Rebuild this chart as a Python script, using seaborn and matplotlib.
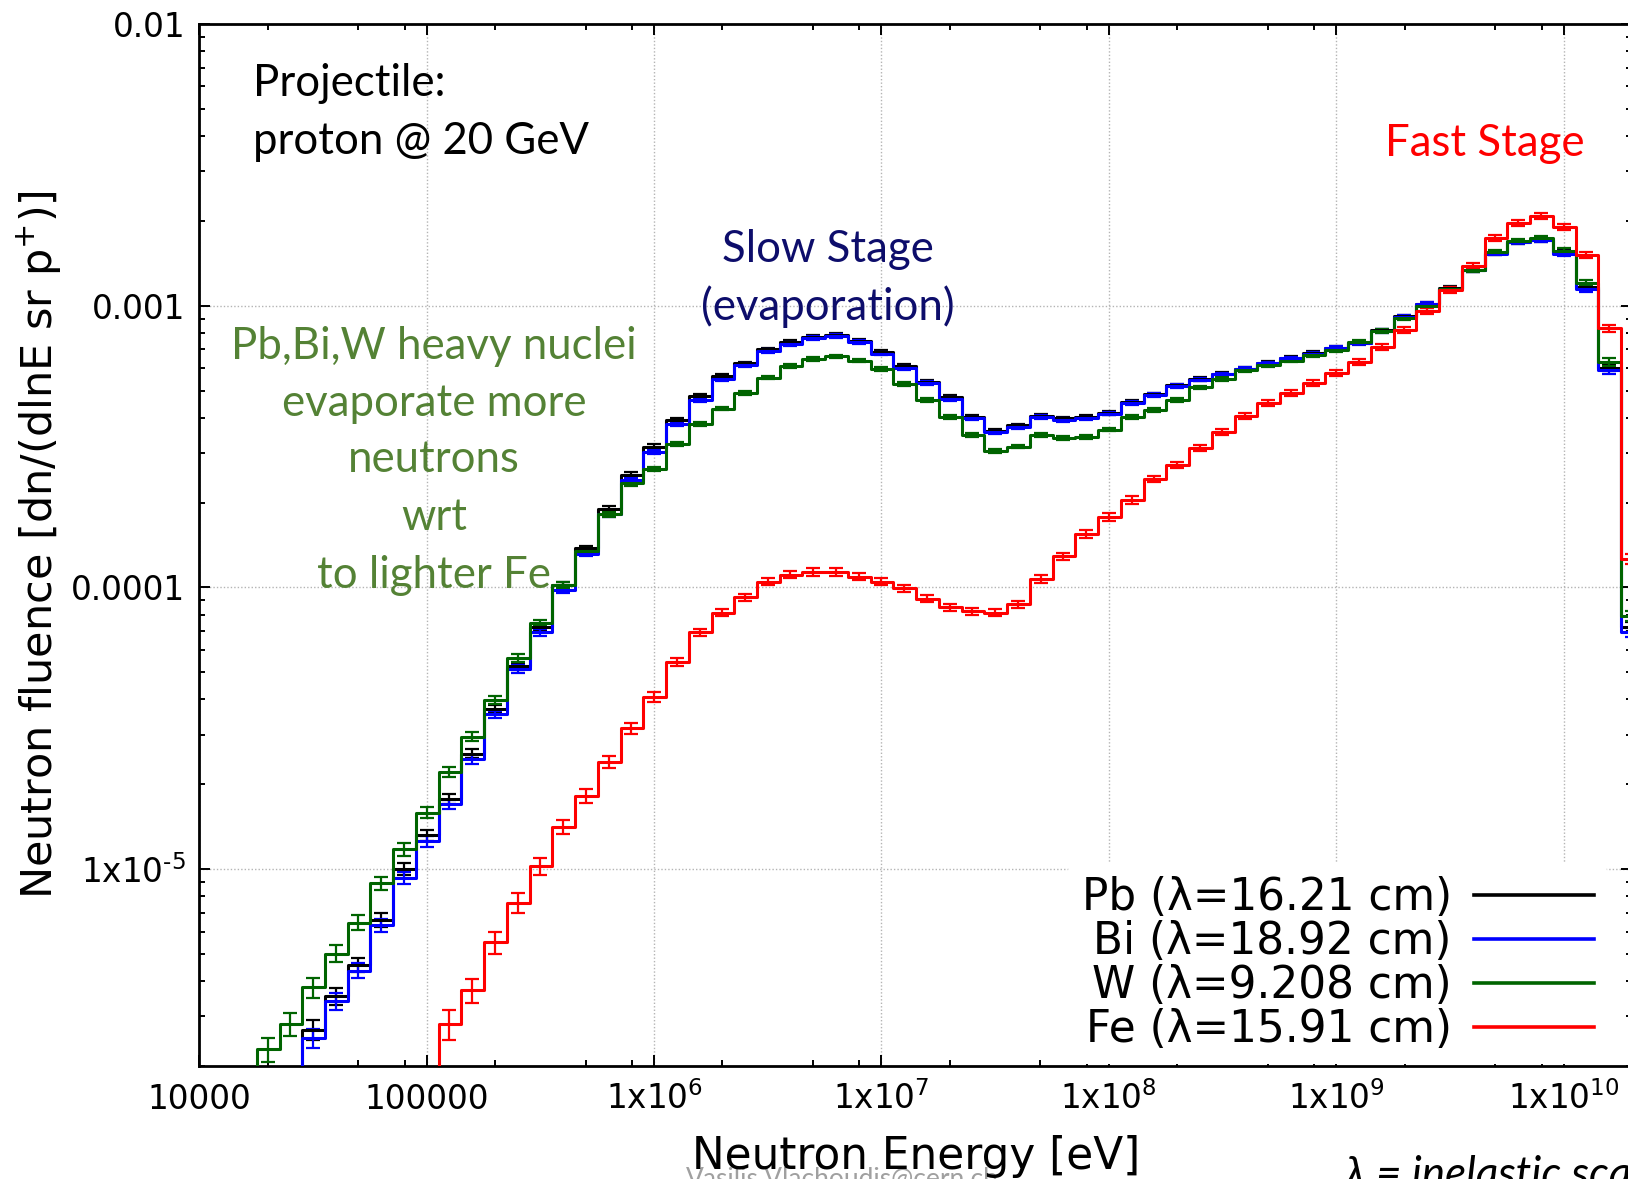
import numpy as np
import pandas as pd
import matplotlib
matplotlib.use("Agg")
import matplotlib.pyplot as plt
import seaborn as sns
from matplotlib.ticker import FixedLocator, FixedFormatter, NullFormatter
from matplotlib.lines import Line2D

nan = np.nan

# ---------------- data (log10 values) ----------------
log_energy = [
    4.2, 4.3, 4.4, 4.5, 4.6, 4.7, 4.8, 4.9, 5.0, 5.1,
    5.2, 5.3, 5.4, 5.5, 5.6, 5.7, 5.8, 5.9, 6.0, 6.1,
    6.2, 6.3, 6.4, 6.5, 6.6, 6.7, 6.8, 6.9, 7.0, 7.1,
    7.2, 7.3, 7.4, 7.5, 7.6, 7.7, 7.8, 7.9, 8.0, 8.1,
    8.2, 8.3, 8.4, 8.5, 8.6, 8.7, 8.8, 8.9, 9.0, 9.1,
    9.2, 9.3, 9.4, 9.5, 9.6, 9.7, 9.8, 9.9, 10.0, 10.1,
    10.2, 10.3,
]

log_pb = [
    nan, nan, -5.85, -5.57, -5.45, -5.34, -5.18, -5.00, -4.88, -4.75,
    -4.59, -4.43, -4.28, -4.14, -3.99, -3.86, -3.72, -3.60, -3.50, -3.405,
    -3.32, -3.25, -3.205, -3.155, -3.13, -3.112, -3.105, -3.125, -3.165, -3.215,
    -3.27, -3.325, -3.395, -3.445, -3.425, -3.39, -3.40, -3.395, -3.38, -3.342,
    -3.315, -3.283, -3.26, -3.242, -3.223, -3.203, -3.185, -3.168, -3.15, -3.131,
    -3.088, -3.038, -2.993, -2.938, -2.873, -2.813, -2.773, -2.766, -2.812, -2.935,
    -3.22, -4.14,
]

log_bi = [
    nan, nan, -5.85, -5.60, -5.47, -5.36, -5.20, -5.03, -4.90, -4.77,
    -4.61, -4.45, -4.29, -4.16, -4.01, -3.88, -3.74, -3.62, -3.52, -3.42,
    -3.335, -3.26, -3.21, -3.16, -3.135, -3.115, -3.108, -3.13, -3.17, -3.22,
    -3.275, -3.33, -3.40, -3.45, -3.43, -3.395, -3.405, -3.40, -3.383, -3.345,
    -3.318, -3.285, -3.262, -3.244, -3.225, -3.205, -3.187, -3.17, -3.151, -3.133,
    -3.09, -3.04, -2.995, -2.94, -2.875, -2.815, -2.775, -2.768, -2.815, -2.94,
    -3.23, -4.16,
]

log_w = [
    -5.85, -5.64, -5.55, -5.42, -5.30, -5.19, -5.05, -4.93, -4.80, -4.655,
    -4.53, -4.40, -4.25, -4.125, -3.99, -3.87, -3.74, -3.63, -3.58, -3.49,
    -3.42, -3.365, -3.31, -3.255, -3.215, -3.19, -3.18, -3.195, -3.225, -3.277,
    -3.335, -3.395, -3.46, -3.515, -3.50, -3.46, -3.47, -3.465, -3.44, -3.395,
    -3.37, -3.335, -3.29, -3.26, -3.23, -3.21, -3.195, -3.175, -3.157, -3.13,
    -3.09, -3.045, -3.00, -2.94, -2.875, -2.81, -2.77, -2.76, -2.805, -2.92,
    -3.20, -4.10,
]

log_fe = [
    nan, nan, nan, nan, nan, nan, nan, nan, -5.85, -5.55,
    -5.43, -5.26, -5.12, -4.99, -4.85, -4.74, -4.62, -4.50, -4.39, -4.265,
    -4.16, -4.09, -4.035, -3.98, -3.955, -3.945, -3.945, -3.962, -3.98, -4.003,
    -4.04, -4.07, -4.085, -4.09, -4.06, -3.97, -3.89, -3.81, -3.75, -3.69,
    -3.615, -3.565, -3.505, -3.447, -3.39, -3.345, -3.31, -3.275, -3.24, -3.20,
    -3.145, -3.085, -3.02, -2.945, -2.86, -2.76, -2.705, -2.683, -2.72, -2.82,
    -3.08, -3.90,
]

rel_err_heavy = [
    0.12, 0.10, 0.09, 0.08, 0.07, 0.06, 0.055, 0.05, 0.045, 0.04,
    0.035, 0.03, 0.03, 0.025, 0.025, 0.02, 0.02, 0.02, 0.018, 0.016,
    0.015, 0.015, 0.015, 0.015, 0.015, 0.015, 0.015, 0.015, 0.015, 0.015,
    0.015, 0.015, 0.015, 0.015, 0.015, 0.015, 0.015, 0.015, 0.015, 0.015,
    0.015, 0.015, 0.015, 0.015, 0.015, 0.015, 0.015, 0.015, 0.015, 0.015,
    0.015, 0.015, 0.015, 0.015, 0.015, 0.015, 0.015, 0.015, 0.02, 0.025,
    0.03, 0.04,
]

rel_err_fe = [
    0.2, 0.2, 0.2, 0.2, 0.2, 0.2, 0.2, 0.2, 0.15, 0.12,
    0.10, 0.09, 0.08, 0.07, 0.06, 0.055, 0.05, 0.045, 0.04, 0.035,
    0.03, 0.03, 0.03, 0.03, 0.03, 0.03, 0.03, 0.03, 0.03, 0.03,
    0.03, 0.03, 0.03, 0.03, 0.03, 0.03, 0.03, 0.03, 0.03, 0.03,
    0.025, 0.025, 0.025, 0.025, 0.025, 0.025, 0.025, 0.025, 0.025, 0.025,
    0.025, 0.025, 0.025, 0.025, 0.025, 0.025, 0.025, 0.025, 0.025, 0.025,
    0.03, 0.04,
]

labels = ["Pb (λ=16.21 cm)", "Bi (λ=18.92 cm)", "W (λ=9.208 cm)", "Fe (λ=15.91 cm)"]
colors = ["#000000", "#0000ff", "#006400", "#ff0000"]
series = [log_pb, log_bi, log_w, log_fe]
errors = [rel_err_heavy, rel_err_heavy, rel_err_heavy, rel_err_fe]

x_tick_values = [1e4, 1e5, 1e6, 1e7, 1e8, 1e9, 1e10]
x_tick_labels = ["10000", "100000", "1x10$^{6}$", "1x10$^{7}$", "1x10$^{8}$",
                 "1x10$^{9}$", "1x10$^{10}$"]
y_tick_values = [1e-5, 1e-4, 1e-3, 1e-2]
y_tick_labels = ["1x10$^{\\text{-5}}$", "0.0001", "0.001", "0.01"]

# ---------------- build long-form table ----------------
frames = []
for lab, vals in zip(labels, series):
    e = 10 ** np.array(log_energy)
    f = 10 ** np.array(vals, dtype=float)
    frames.append(pd.DataFrame({"energy": e, "fluence": f, "material": lab}))
df = pd.concat(frames, ignore_index=True).dropna()

# ---------------- figure ----------------
W, H = 1628, 1179
fig = plt.figure(figsize=(W / 100, H / 100), dpi=100)
plt.rcParams["mathtext.fontset"] = "dejavusans"
ax = fig.add_axes([199.3 / W, 1 - 1066 / H, (1632 - 199.3) / W, (1066 - 24) / H])

palette = dict(zip(labels, colors))
sns.lineplot(data=df, x="energy", y="fluence", hue="material", hue_order=labels,
             palette=palette, drawstyle="steps-mid", linewidth=2.2,
             estimator=None, legend=False, ax=ax, zorder=3)

for lab, vals, rel, col in zip(labels, series, errors, colors):
    e = 10 ** np.array(log_energy)
    f = 10 ** np.array(vals, dtype=float)
    r = np.array(rel)
    ax.errorbar(e, f, yerr=f * r, fmt="none", ecolor=col, elinewidth=1.6,
                capsize=5, capthick=1.6, zorder=2.9)

ax.set_xscale("log")
ax.set_yscale("log")
ax.set_xlim(1e4, 2e10)
ax.set_ylim(2e-6, 1e-2)
ax.set_xlabel("")
ax.set_ylabel("")

ax.xaxis.set_major_locator(FixedLocator(x_tick_values))
ax.xaxis.set_major_formatter(FixedFormatter(x_tick_labels))
minor_x = [m * 10 ** d for d in range(4, 11) for m in (2, 5, 8)]
ax.xaxis.set_minor_locator(FixedLocator(minor_x))
ax.xaxis.set_minor_formatter(NullFormatter())

ax.yaxis.set_major_locator(FixedLocator(y_tick_values))
ax.yaxis.set_major_formatter(FixedFormatter(y_tick_labels))
minor_y = [m * 10.0 ** d for d in range(-6, -2) for m in range(2, 10)]
ax.yaxis.set_minor_locator(FixedLocator(minor_y))
ax.yaxis.set_minor_formatter(NullFormatter())

ax.tick_params(which="both", direction="in", top=True, right=True, width=1.4,
               colors="black")
ax.tick_params(which="major", length=8)
ax.tick_params(which="minor", length=4)
ax.tick_params(axis="x", which="major", labelsize=23.5, pad=31)
ax.tick_params(axis="y", which="major", labelsize=23.5, pad=10)
for t in ax.get_xticklabels():
    t.set_va("baseline")

for s in ax.spines.values():
    s.set_linewidth(2.0)
    s.set_color("black")

ax.grid(True, which="major", color="#b4b4b4", linestyle=(0, (1, 1.5)), linewidth=1.0)
ax.set_axisbelow(True)


def fx(x):
    return x / W


def fy(y):
    return 1 - y / H


# axis titles placed in figure pixels
fig.text(fx(916), fy(1157), "Neutron Energy [eV]", fontsize=31.5, ha="center", va="center")
fig.text(fx(40), fy(545), "Neutron fluence [dn/(dlnE sr p$^{+}$)]", fontsize=31,
         rotation=90, ha="center", va="center")

# legend
handles = [Line2D([0], [0], color=c, linewidth=2.6) for c in colors]
leg = ax.legend(handles, labels, loc="lower right", markerfirst=False,
                fontsize=31.5, handlelength=2.75, handletextpad=0.5,
                labelspacing=0.02, borderpad=0.3, borderaxespad=0,
                frameon=True, framealpha=1, facecolor="white", edgecolor="none",
                bbox_to_anchor=(1607 / W, 1 - 1064 / H), bbox_transform=fig.transFigure)
leg.set_zorder(5)

# annotations (figure pixel coordinates)
ann_font = "Lato"
fs_ann = 31.5
fig.text(fx(253), fy(84), "Projectile:", fontsize=fs_ann, family=ann_font, va="center", ha="left")
fig.text(fx(253), fy(141), "proton @ 20 GeV", fontsize=fs_ann, family=ann_font, va="center", ha="left")
fig.text(fx(828), fy(250), "Slow Stage", fontsize=fs_ann, family=ann_font, color="#0d0d6b",
         va="center", ha="center")
fig.text(fx(828), fy(307), "(evaporation)", fontsize=fs_ann, family=ann_font, color="#0d0d6b",
         va="center", ha="center")
fig.text(fx(1485), fy(143), "Fast Stage", fontsize=fs_ann, family=ann_font, color="#ff0000",
         va="center", ha="center")
green_lines = ["Pb,Bi,W heavy nuclei", "evaporate more", "neutrons", "wrt", "to lighter Fe"]
for txt, yy in zip(green_lines, [346, 404, 460, 518, 575]):
    fig.text(fx(434), fy(yy), txt, fontsize=fs_ann, family=ann_font, color="#548235",
             va="center", ha="center")

fig.text(fx(842), fy(1180), "Vasilis.Vlachoudis@cern.ch", fontsize=19, color="#a0a0a0",
         va="center", ha="center", family=ann_font, zorder=0)
fig.text(fx(1345), fy(1176), "λ = inelastic scattering length", fontsize=31.5,
         fontstyle="italic", va="center", ha="left", family=["Lato", "DejaVu Sans"])

fig.savefig("out.png", dpi=100)
